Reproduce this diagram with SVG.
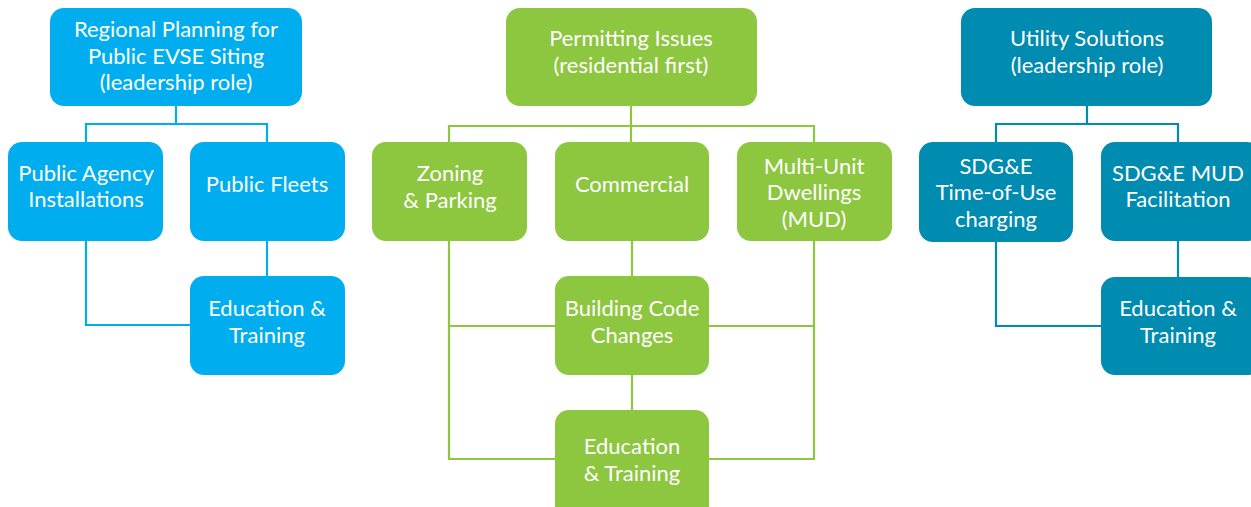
<svg xmlns="http://www.w3.org/2000/svg" width="1251" height="507" viewBox="0 0 1251 507">
<style>
.a{fill:#00AEEF}
.g{fill:#8DC63F}
.t{fill:#008BB0}
text{font-family:Lato,"Liberation Sans",sans-serif;font-size:22px;fill:#fff;text-anchor:middle}
.la{stroke:#00AEEF;stroke-width:2.2;fill:none}
.lg{stroke:#8DC63F;stroke-width:2.2;fill:none}
.lt{stroke:#008BB0;stroke-width:2.2;fill:none}
</style>
<rect width="1251" height="507" fill="#fff"/>
<g id="connectors">
<path class="la" d="M176 106V124M86 142V124H267V142M267 241V276M86 241V325H190"/>
<path class="lg" d="M631 106V126M449 142V126H814V142M631 126V142M632 241V276M632 375V410M449 241V459H555M449 326H555M814 241V459H709M709 326H814"/>
<path class="lt" d="M1087 106V124M996 142V124H1178V142M1178 241V277M996 242V326H1101"/>
</g>
<g id="n1"><rect class="a" x="50" y="8" width="252" height="98" rx="14"/><text x="176" y="37">Regional Planning for</text><text x="176" y="64">Public EVSE Siting</text><text x="176" y="90">(leadership role)</text></g>
<g id="n2"><rect class="a" x="8" y="142" width="155" height="99" rx="14"/><text x="86" y="181">Public Agency</text><text x="86" y="207">Installations</text></g>
<g id="n3"><rect class="a" x="190" y="142" width="155" height="99" rx="14"/><text x="267" y="192">Public Fleets</text></g>
<g id="n4"><rect class="a" x="190" y="276" width="155" height="99" rx="14"/><text x="267" y="316">Education &amp;</text><text x="267" y="343">Training</text></g>
<g id="n5"><rect class="g" x="506" y="8" width="251" height="98" rx="14"/><text x="631" y="46">Permitting Issues</text><text x="631" y="73">(residential first)</text></g>
<g id="n6"><rect class="g" x="372" y="142" width="155" height="99" rx="14"/><text x="450" y="181">Zoning</text><text x="450" y="208">&amp; Parking</text></g>
<g id="n7"><rect class="g" x="555" y="142" width="154" height="99" rx="14"/><text x="632" y="192">Commercial</text></g>
<g id="n8"><rect class="g" x="737" y="142" width="155" height="99" rx="14"/><text x="814" y="174">Multi-Unit</text><text x="814" y="200">Dwellings</text><text x="814" y="227">(MUD)</text></g>
<g id="n9"><rect class="g" x="555" y="276" width="154" height="99" rx="14"/><text x="632" y="316">Building Code</text><text x="632" y="343">Changes</text></g>
<g id="n10"><rect class="g" x="555" y="410" width="154" height="110" rx="14"/><text x="632" y="454">Education</text><text x="632" y="481">&amp; Training</text></g>
<g id="n11"><rect class="t" x="961" y="8" width="251" height="98" rx="14"/><text x="1087" y="46">Utility Solutions</text><text x="1087" y="73">(leadership role)</text></g>
<g id="n12"><rect class="t" x="919" y="142" width="154" height="100" rx="14"/><text x="996" y="174">SDG&amp;E</text><text x="996" y="200">Time-of-Use</text><text x="996" y="227">charging</text></g>
<g id="n13"><rect class="t" x="1101" y="142" width="160" height="99" rx="14"/><text x="1178" y="181">SDG&amp;E MUD</text><text x="1178" y="207">Facilitation</text></g>
<g id="n14"><rect class="t" x="1101" y="277" width="160" height="98" rx="14"/><text x="1178" y="316">Education &amp;</text><text x="1178" y="343">Training</text></g>
</svg>
